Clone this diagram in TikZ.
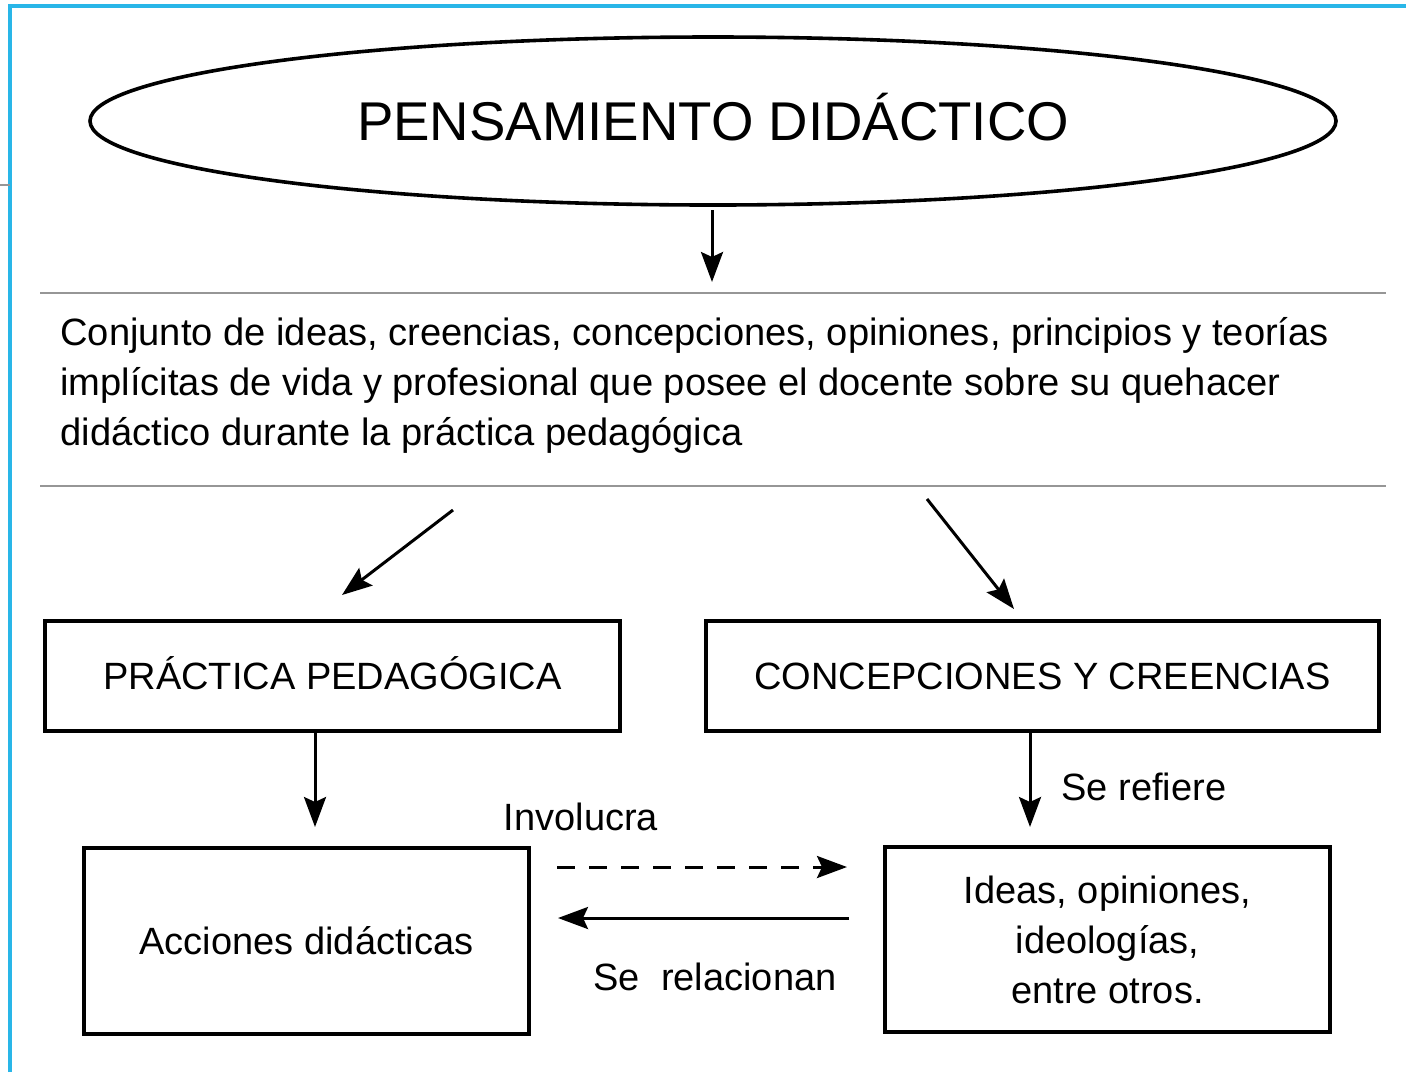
\documentclass[tikz,border=0pt]{standalone}
\usepackage{fontspec}
\setmainfont{Liberation Sans}
\usetikzlibrary{shapes.geometric,arrows.meta}
\definecolor{frameblue}{RGB}{41,182,232}
\definecolor{rulegray}{RGB}{150,150,150}
\begin{document}
\begin{tikzpicture}[x=0.5pt,y=-0.5pt,
  arr/.style={line width=1.5pt,-{Stealth[length=15pt,width=11pt,inset=2.5pt]}},
  boxnode/.style={draw,line width=1.6pt,inner sep=0pt,align=center,font=\fontsize{19}{25}\selectfont},
  capsbox/.style={text height=13.6pt,text depth=0pt},
  lbl/.style={font=\fontsize{19}{25}\selectfont,inner sep=0pt},
  grayrule/.style={draw=rulegray,line width=1pt}]
\useasboundingbox (0,0) rectangle (1406,1072);
% frame
\draw[frameblue,line width=1.6pt] (10,1072) -- (10,6) -- (1406,6);
\draw[rulegray,line width=0.6pt] (0,185) -- (10,185);
% title
\node[ellipse,draw,line width=1.8pt,minimum width=623pt,minimum height=84pt,inner sep=0pt,
      text height=19.5pt,text depth=0pt,
      font=\fontsize{27.3}{30}\selectfont] (title) at (713,121) {PENSAMIENTO DIDÁCTICO};
% description band
\coordinate (r1l) at (40,293); \coordinate (r1r) at (1386,293);
\coordinate (r2l) at (40,486); \coordinate (r2r) at (1386,486);
\draw[grayrule] (r1l) -- (r1r);
\draw[grayrule] (r2l) -- (r2r);
\node[anchor=north west,align=left,inner sep=0pt,font=\fontsize{19.05}{25}\selectfont] (desc) at (60,317)
 {Conjunto de ideas, creencias, concepciones, opiniones, principios y teorías\\
  implícitas de vida y profesional que posee el docente sobre su quehacer\\
  didáctico durante la práctica pedagógica};
% boxes
\node[boxnode,capsbox,minimum width=287.5pt,minimum height=55pt] (practica) at (332.5,676) {PRÁCTICA PEDAGÓGICA};
\node[boxnode,capsbox,minimum width=336.5pt,minimum height=55pt] (concep) at (1042.5,676) {CONCEPCIONES Y CREENCIAS};
\node[boxnode,capsbox,minimum width=222.5pt,minimum height=93pt] (acciones) at (306.5,941) {Acciones didácticas};
\node[boxnode,minimum width=222.5pt,minimum height=92.5pt] (ideas) at (1107.5,939.5) {Ideas, opiniones,\\ideologías,\\entre otros.};
% labels
\node[lbl] (involucra) at (581,817) {Involucra};
\node[lbl] (serefiere) at (1144,787) {Se refiere};
\node[lbl] (serel) at (715,977) {Se~~relacionan};
% arrow end points
\coordinate (a1s) at (712,210); \coordinate (a1e) at (712,282);
\coordinate (d1s) at (453,510); \coordinate (d1e) at (342,595);
\coordinate (d2s) at (927,499); \coordinate (d2e) at (1014,609);
\coordinate (p1e) at (315,827);
\coordinate (c1e) at (1030,827);
\coordinate (h1s) at (557,867); \coordinate (h1e) at (847,867);
\coordinate (h2s) at (849,918); \coordinate (h2e) at (558,918);
% connectors
\draw[arr] (a1s) -- (a1e);
\draw[arr] (d1s) -- (d1e);
\draw[arr] (d2s) -- (d2e);
\draw[arr] (practica.south -| p1e) -- (p1e);
\draw[arr] (concep.south -| c1e) -- (c1e);
\draw[arr,dash pattern=on 9pt off 7pt] (h1s) -- (h1e);
\draw[arr] (h2s) -- (h2e);
\end{tikzpicture}
\end{document}
